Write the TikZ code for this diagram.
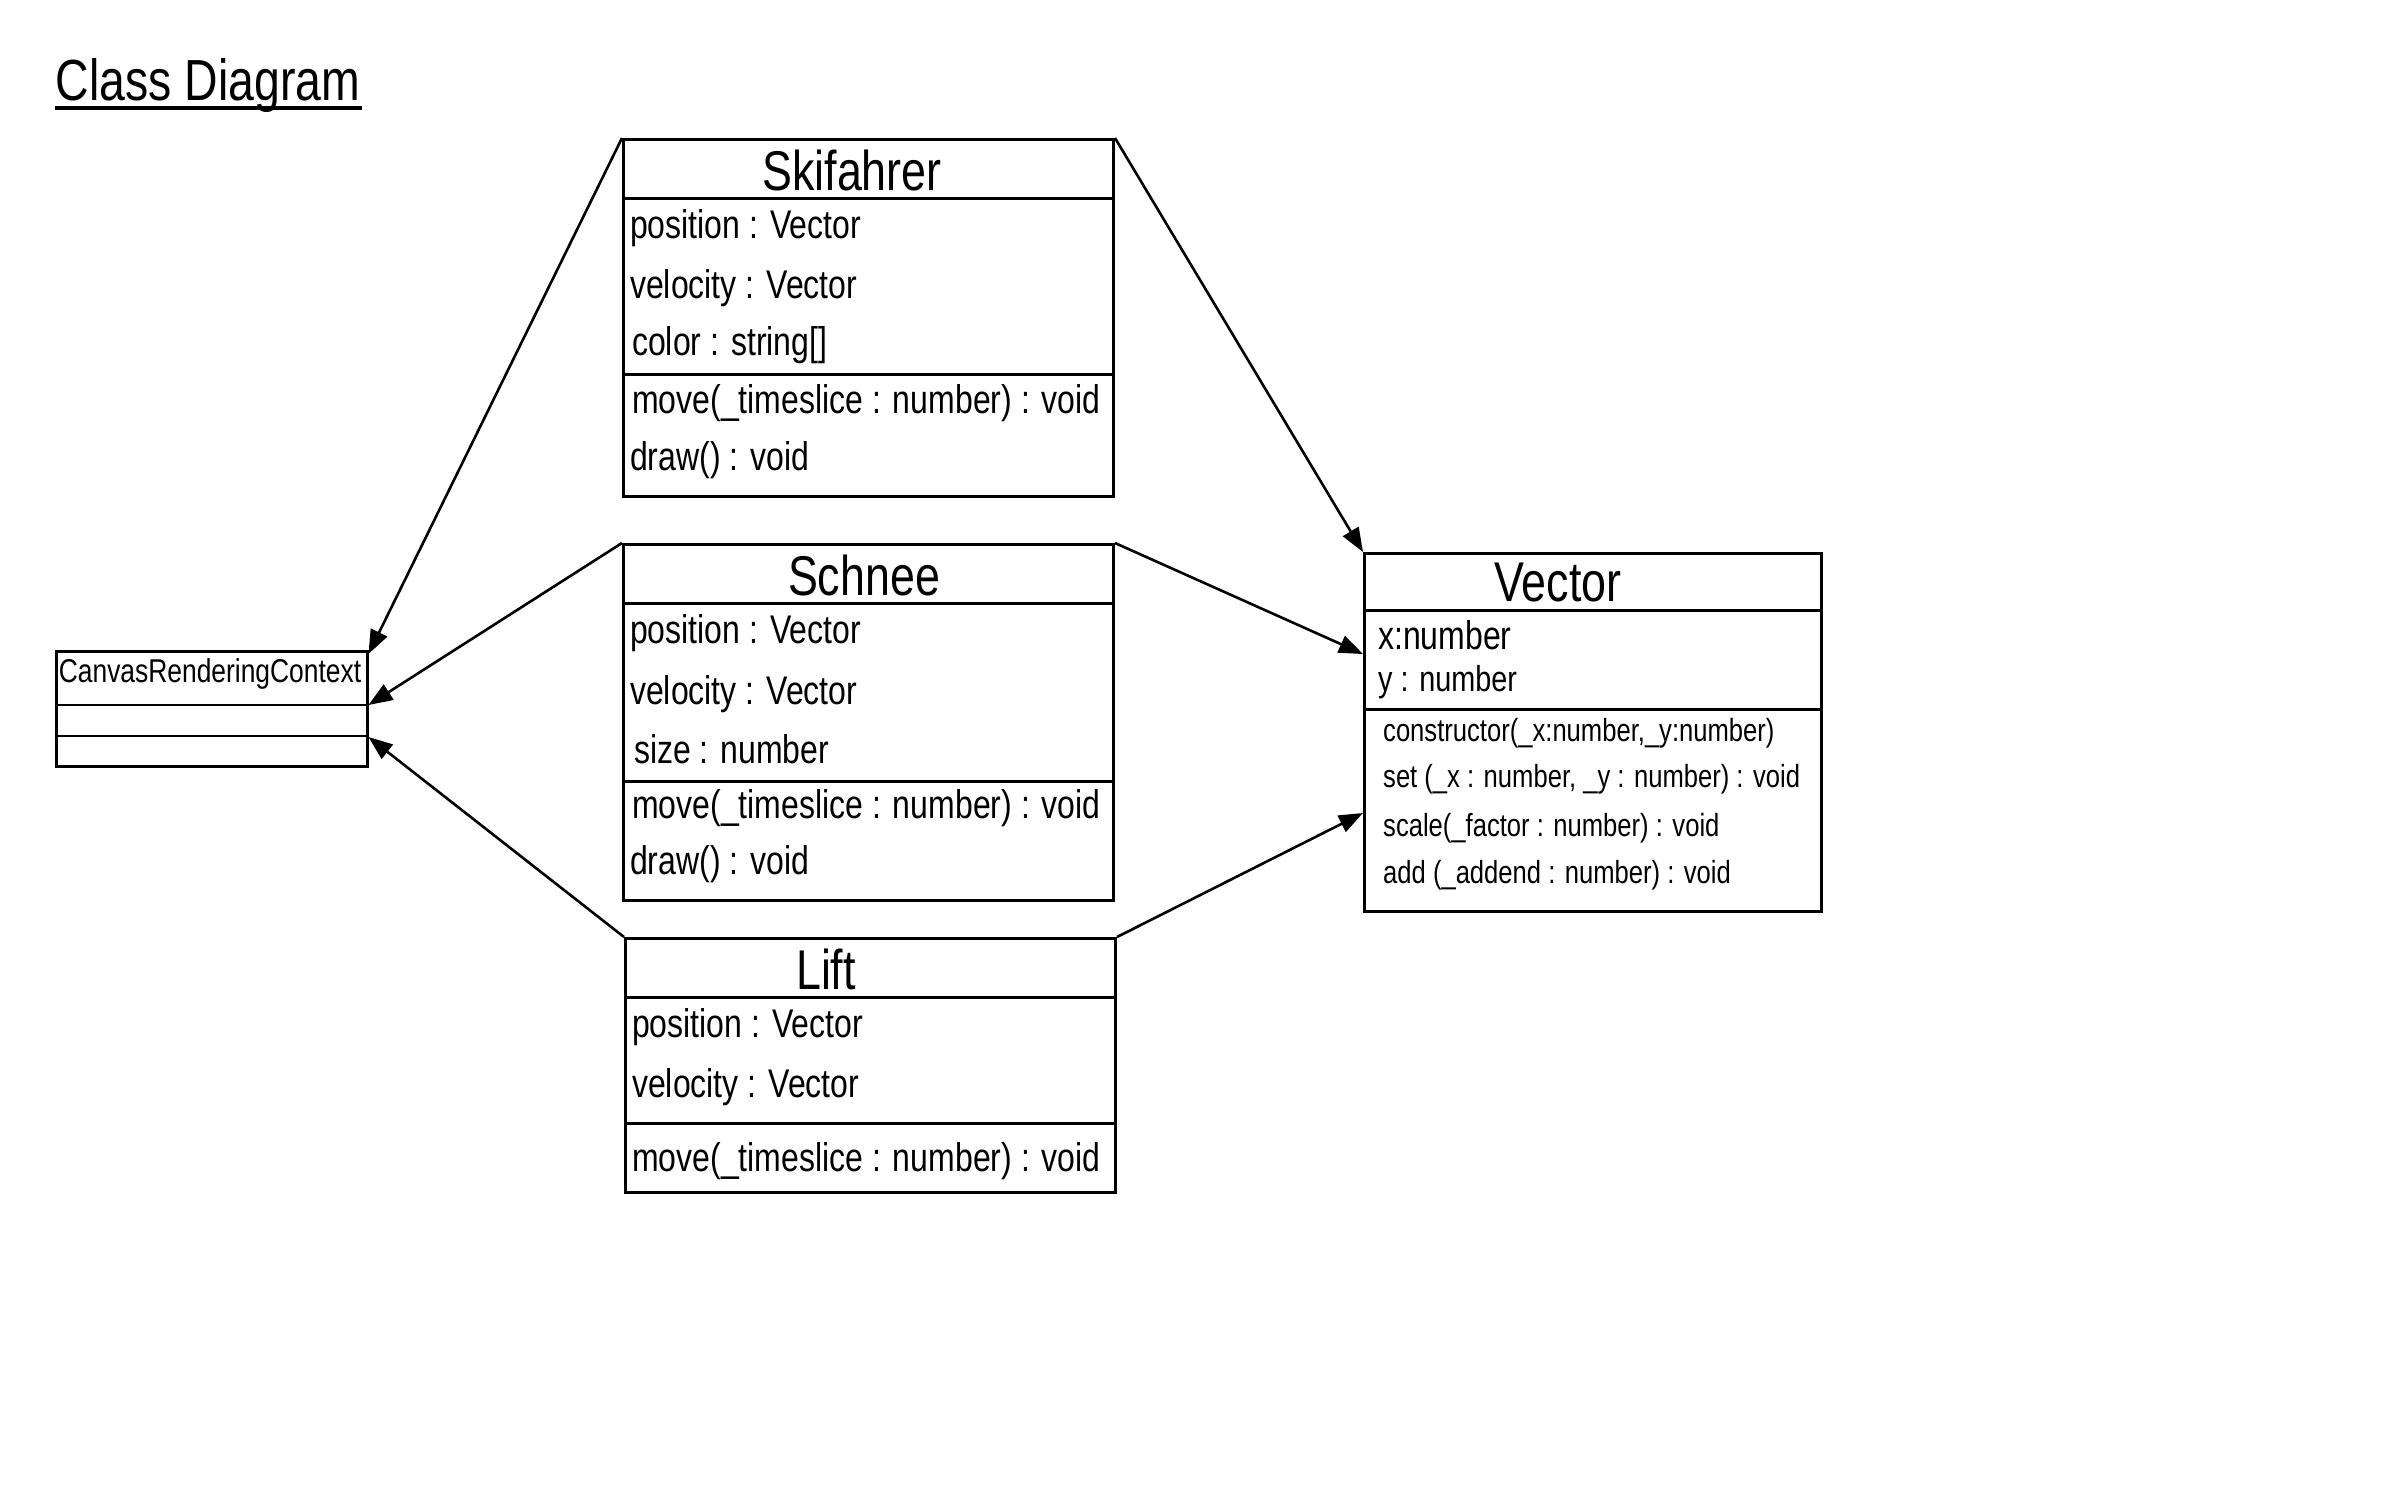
\documentclass[tikz,border=0pt]{standalone}
\usepackage{fontspec}
\setmainfont{Liberation Sans}[FakeStretch=0.8]
\usetikzlibrary{arrows.meta}
\tikzset{
  classbox/.style={draw, line width=3pt, anchor=north west, inner sep=0pt},
  sepline/.style={line width=3pt},
  member/.style={anchor=west, inner sep=0pt, font=\fontsize{40}{48}\selectfont},
  smallmember/.style={anchor=west, inner sep=0pt, font=\fontsize{32}{38}\selectfont},
  classname/.style={inner sep=0pt, font=\fontsize{56}{64}\selectfont},
  assoc/.style={line width=2.6pt, -{Triangle[length=24pt,width=18pt]}},
}
\begin{document}
\begin{tikzpicture}[x=1pt,y=-1pt]
\useasboundingbox[fill=white] (0,0) rectangle (2386,1491);

% title
\node[inner sep=0pt, font=\fontsize{58}{66}\selectfont, anchor=base] (title) at (208,100) {Class Diagram};
\draw[line width=4pt] (55,108) -- (362,108);

% Skifahrer
\node[classbox, minimum width=490pt, minimum height=357pt] (ski) at (622,138) {};
\draw[sepline] ([yshift=-60pt]ski.north west) -- ([yshift=-60pt]ski.north east);
\draw[sepline] ([yshift=-236pt]ski.north west) -- ([yshift=-236pt]ski.north east);
\node[classname] (skiT) at (852,170) {Skifahrer};
\node[member] (ski1) at (630,228) {position : Vector};
\node[member] (ski2) at (630,288) {velocity : Vector};
\node[member] (ski3) at (632,345) {color : string[]};
\node[member] (ski4) at (632,403) {move(\_timeslice : number) : void};
\node[member] (ski5) at (630,460) {draw() : void};

% Schnee
\node[classbox, minimum width=490pt, minimum height=356pt] (sch) at (622,543) {};
\draw[sepline] ([yshift=-60pt]sch.north west) -- ([yshift=-60pt]sch.north east);
\draw[sepline] ([yshift=-238pt]sch.north west) -- ([yshift=-238pt]sch.north east);
\node[classname] (schT) at (864,575) {Schnee};
\node[member] (sch1) at (630,633) {position : Vector};
\node[member] (sch2) at (630,694) {velocity : Vector};
\node[member] (sch3) at (634,749) {size : number};
\node[member] (sch4) at (632,808) {move(\_timeslice : number) : void};
\node[member] (sch5) at (630,864) {draw() : void};

% Lift
\node[classbox, minimum width=490pt, minimum height=254pt] (lift) at (624,937) {};
\draw[sepline] ([yshift=-60pt]lift.north west) -- ([yshift=-60pt]lift.north east);
\draw[sepline] ([yshift=-186pt]lift.north west) -- ([yshift=-186pt]lift.north east);
\node[classname] (liftT) at (826,969) {Lift};
\node[member] (lift1) at (632,1027) {position : Vector};
\node[member] (lift2) at (632,1087) {velocity : Vector};
\node[member] (lift3) at (632,1161) {move(\_timeslice : number) : void};

% Vector
\node[classbox, minimum width=457pt, minimum height=358pt] (vec) at (1363,552) {};
\draw[sepline] ([yshift=-58pt]vec.north west) -- ([yshift=-58pt]vec.north east);
\draw[sepline] ([yshift=-157pt]vec.north west) -- ([yshift=-157pt]vec.north east);
\node[classname] (vecT) at (1558,583) {Vector};
\node[member] (vec1) at (1378,635) {x:number};
\node[member, font=\fontsize{36}{42}\selectfont] (vec2) at (1378,682) {y : number};
\node[smallmember] (vec3) at (1383,733) {constructor(\_x:number,\_y:number)};
\node[smallmember] (vec4) at (1383,779) {set (\_x : number, \_y : number) : void};
\node[smallmember] (vec5) at (1383,828) {scale(\_factor : number) : void};
\node[smallmember] (vec6) at (1383,875) {add (\_addend : number) : void};

% CanvasRenderingContext
\node[classbox, minimum width=311pt, minimum height=115pt, line width=2.5pt] (canvas) at (55,650) {};
\draw[line width=2.5pt] ([yshift=-55pt]canvas.north west) -- ([yshift=-55pt]canvas.north east);
\draw[line width=2.5pt] ([yshift=-86pt]canvas.north west) -- ([yshift=-86pt]canvas.north east);
\node[inner sep=0pt, font=\fontsize{33}{40}\selectfont] (canvasT) at (210,674) {CanvasRenderingContext};

% associations
\draw[assoc] (ski.north west) -- ([yshift=-4pt]canvas.north east);
\draw[assoc] (sch.north west) -- ([yshift=-55pt]canvas.north east);
\draw[assoc] (lift.north west) -- ([yshift=-87pt]canvas.north east);
\draw[assoc] (ski.north east) -- (vec.north west);
\draw[assoc] (sch.north east) -- ([yshift=-102pt]vec.north west);
\draw[assoc] (lift.north east) -- ([yshift=-261pt]vec.north west);
\end{tikzpicture}
\end{document}
